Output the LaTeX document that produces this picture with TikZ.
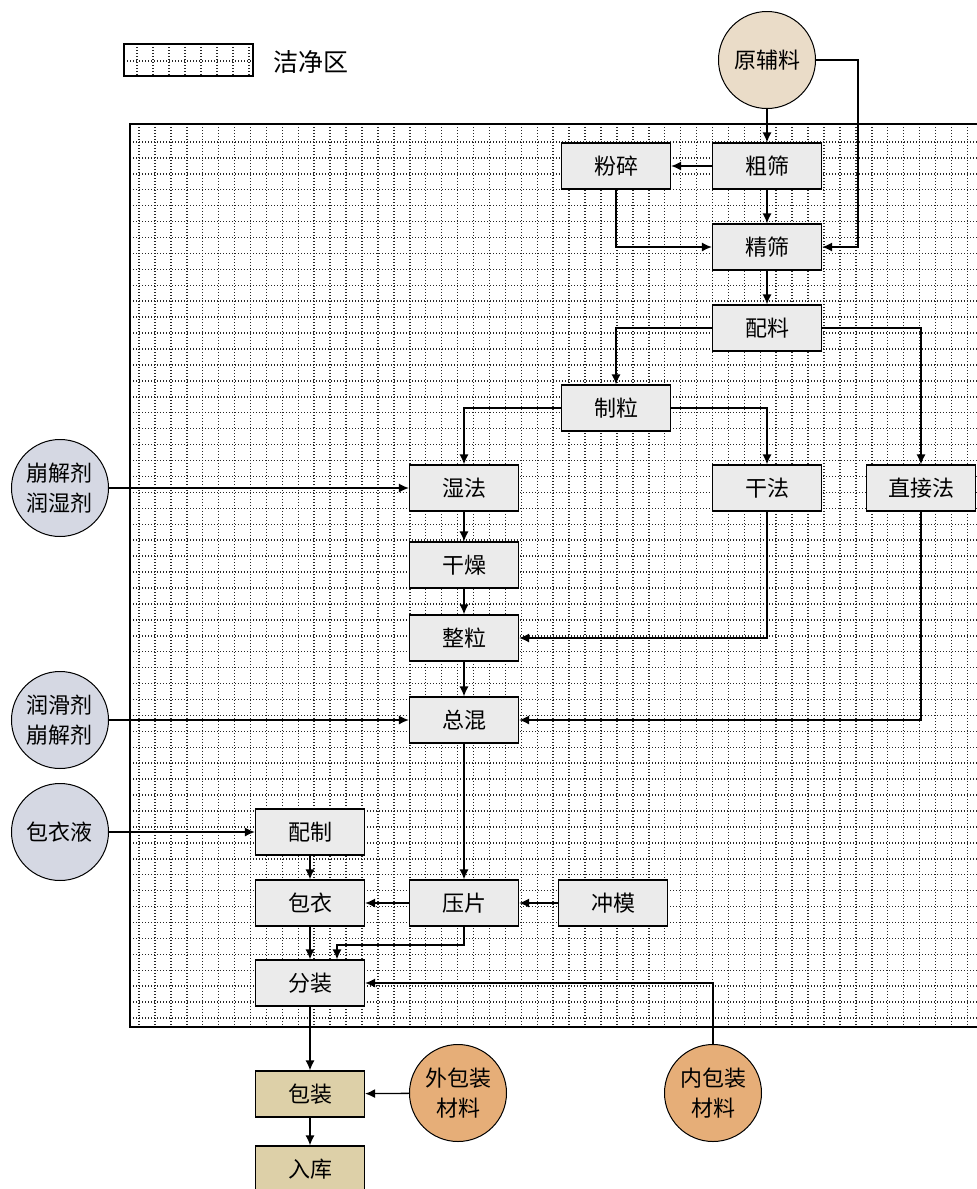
\documentclass[tikz,border=0pt]{standalone}
\usepackage{fontspec}
\newfontfamily\cjk{Noto Sans CJK SC}
\usepackage{tikz}
\usetikzlibrary{arrows.meta}
\definecolor{boxgray}{HTML}{EBEBEB}
\definecolor{packtan}{HTML}{DDD0A8}
\definecolor{rawbeige}{HTML}{EADCC8}
\definecolor{addgray}{HTML}{D5D8E3}
\definecolor{matorange}{HTML}{E6AE78}

\begin{document}
\begin{tikzpicture}[x=1pt,y=-1pt,
        font=\cjk\fontsize{22}{26}\selectfont,
        proc/.style={draw,line width=1.2pt,fill=boxgray,minimum width=109pt,minimum height=46pt,inner sep=0pt},
        pack/.style={proc,fill=packtan},
        src/.style={circle,draw,line width=1pt,minimum size=97pt,inner sep=0pt,align=center,font=\cjk\fontsize{22}{30}\selectfont},
        flow/.style={line width=1.3pt,-{Latex[length=10pt,width=9pt]}},
        dotline/.style={line width=1.5pt,dash pattern=on 1.4pt off 1.6pt,black!85}]
        \useasboundingbox (0,0) rectangle (977,1189);
        % clean area
        \foreach \k in {0,...,52}
                \draw[dotline] ({139+15.93*\k},124) -- ({139+15.93*\k},1027);
        \foreach \k in {1,...,56}
                \draw[dotline] (130,{126+15.93*\k}) -- (985,{126+15.93*\k});
        \draw[line width=1.8pt] (130,124) rectangle (985,1027);
        % legend
        \foreach \gx in {137,153,...,249}
                \draw[dotline] (\gx,44) -- (\gx,76);
        \draw[dotline] (124,61) -- (253,61);
        \node[draw,line width=1.5pt,minimum width=129pt,minimum height=32pt,inner sep=0pt] (legend) at (188.5,60) {};
        \node[font=\cjk\fontsize{25}{30}\selectfont,anchor=west] (legendtext) at (270,62) {洁净区};
        % process steps
        \node[src,fill=rawbeige] (raw) at (767,60) {原辅料};
        \node[proc] (coarse) at (767,166) {粗筛};
        \node[proc] (crush) at (616,166) {粉碎};
        \node[proc] (fine) at (767,247) {精筛};
        \node[proc] (dose) at (767,328) {配料};
        \node[proc] (gran) at (616,408) {制粒};
        \node[proc] (wet) at (464,488) {湿法};
        \node[proc] (dry) at (767,488) {干法};
        \node[proc] (direct) at (921,488) {直接法};
        \node[proc] (drying) at (464,565) {干燥};
        \node[proc] (sizing) at (464,638) {整粒};
        \node[proc] (mix) at (464,720) {总混};
        \node[proc] (prep) at (310,832) {配制};
        \node[proc] (coat) at (310,903) {包衣};
        \node[proc] (press) at (464,903) {压片};
        \node[proc] (punch) at (613,903) {冲模};
        \node[proc] (subpack) at (310,983) {分装};
        \node[pack] (pack) at (310,1094) {包装};
        \node[pack] (store) at (310,1169) {入库};
        % inputs
        \node[src,fill=addgray] (binder) at (60,488) {崩解剂\\润湿剂};
        \node[src,fill=addgray] (lube) at (60,720) {润滑剂\\崩解剂};
        \node[src,fill=addgray] (coatliq) at (60,832) {包衣液};
        \node[src,fill=matorange] (outer) at (458,1093) {外包装\\材料};
        \node[src,fill=matorange] (inner) at (713,1093) {内包装\\材料};
        % flows
        \draw[flow] (raw) -- (coarse);
        \draw[flow] (raw.east) -| ([xshift=36pt]fine.east) -- (fine.east);
        \draw[flow] (coarse) -- (crush);
        \draw[flow] (coarse) -- (fine);
        \draw[flow] (crush) |- (fine);
        \draw[flow] (fine) -- (dose);
        \draw[flow] (dose) -| (gran);
        \draw[flow] (dose) -| (direct);
        \draw[flow] (gran) -| (wet);
        \draw[flow] (gran) -| (dry);
        \draw[flow] (binder) -- (wet);
        \draw[flow] (wet) -- (drying);
        \draw[flow] (drying) -- (sizing);
        \draw[flow] (sizing) -- (mix);
        \draw[flow] (dry) |- (sizing);
        \draw[flow] (direct) |- (mix);
        \draw[flow] (lube) -- (mix);
        \draw[flow] (mix) -- (press);
        \draw[flow] (coatliq) -- (prep);
        \draw[flow] (prep) -- (coat);
        \draw[flow] (press) -- (coat);
        \draw[flow] (punch) -- (press);
        \draw[flow] (coat) -- (subpack);
        \draw[flow] (press.south) -- ++(0,18.5) -| ([xshift=27pt]subpack.north);
        \draw[flow] (inner) |- (subpack);
        \draw[flow] (subpack) -- (pack);
        \draw[flow] (outer) -- (pack);
        \draw[flow] (pack) -- (store);
\end{tikzpicture}
\end{document}
